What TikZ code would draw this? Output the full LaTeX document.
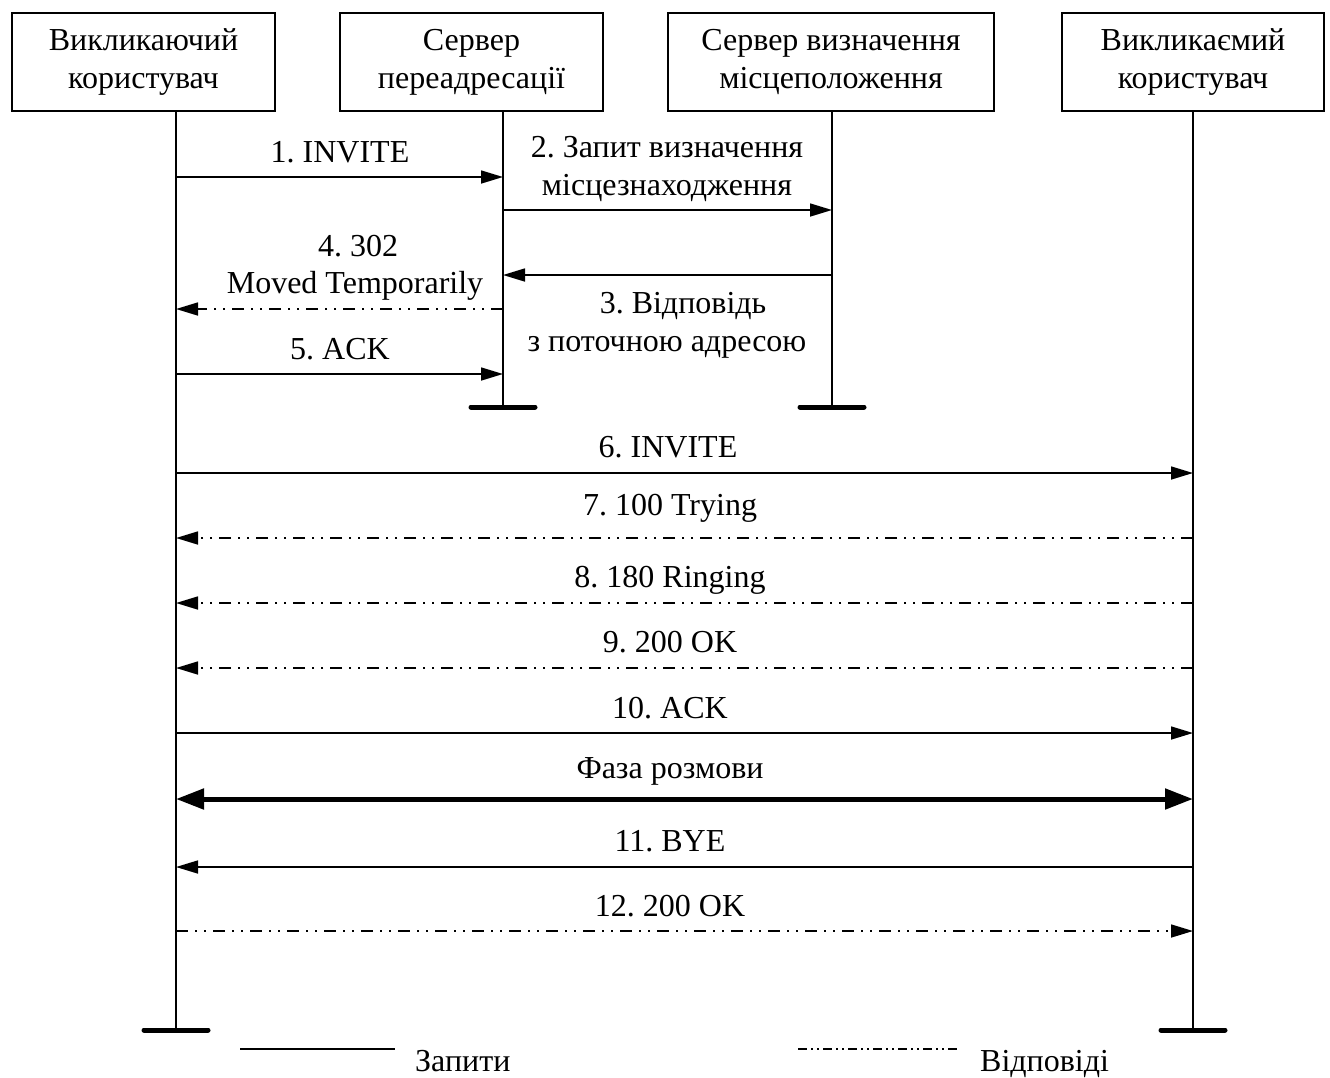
\documentclass[tikz,border=0pt]{standalone}
\usepackage{fontspec}
\setmainfont{Liberation Serif}
\usetikzlibrary{arrows.meta}
\frenchspacing
\begin{document}
\begin{tikzpicture}[x=1pt,y=-1pt,
  font=\fontsize{32}{38}\selectfont,
  actor/.style={draw,line width=2pt,align=center,inner sep=0pt},
  life/.style={line width=2pt},
  endbar/.style={line width=5pt,line cap=round},
  req/.style={line width=1.6pt,-{Triangle[length=22pt,width=13pt]}},
  resp/.style={req,dash pattern=on 12pt off 7pt on 2pt off 7pt on 2pt off 7pt},
  talk/.style={line width=5pt,{Triangle[length=28pt,width=20pt]}-{Triangle[length=28pt,width=20pt]}},
  lbl/.style={anchor=base,inner sep=0pt}]
\useasboundingbox (0,0) rectangle (1330,1077);

% participants
\node[actor,minimum width=263pt,minimum height=98pt] (A) at (143.5,62) {Викликаючий\\користувач};
\node[actor,minimum width=263pt,minimum height=98pt] (B) at (471.5,62) {Сервер\\переадресації};
\node[actor,minimum width=326pt,minimum height=98pt] (C) at (831,62) {Сервер визначення\\місцеположення};
\node[actor,minimum width=262pt,minimum height=98pt] (D) at (1193,62) {Викликаємий\\користувач};

% lifelines
\coordinate (Atop) at (176,111);  \coordinate (Aend) at (176,1030);
\coordinate (Btop) at (503,111);  \coordinate (Bend) at (503,407);
\coordinate (Ctop) at (832,111);  \coordinate (Cend) at (832,407);
\coordinate (Dtop) at (1193,111); \coordinate (Dend) at (1193,1030);
\foreach \p in {A,B,C,D}{
  \draw[life] (\p top) -- (\p end);
  \draw[endbar] ([xshift=-32pt]\p end) -- ([xshift=32pt]\p end);
}

% redirect phase
\draw[req]  (Atop |- 0,177) -- (Btop |- 0,177);
\node[lbl] (m1) at (340,162) {1. INVITE};
\draw[req]  (Btop |- 0,210) -- (Ctop |- 0,210);
\node[lbl] (m2a) at (667,157) {2. Запит визначення};
\node[lbl] (m2b) at (667,195) {місцезнаходження};
\draw[req]  (Ctop |- 0,275) -- (Btop |- 0,275);
\node[lbl] (m3a) at (683,313) {3. Відповідь};
\node[lbl] (m3b) at (667,351) {з поточною адресою};
\draw[resp] (Btop |- 0,309) -- (Atop |- 0,309);
\node[lbl] (m4a) at (358,256) {4. 302};
\node[lbl] (m4b) at (355,293) {Moved Temporarily};
\draw[req]  (Atop |- 0,374) -- (Btop |- 0,374);
\node[lbl] (m5) at (340,359) {5. ACK};

% call with the called user
\draw[req]  (Atop |- 0,473) -- (Dtop |- 0,473);
\node[lbl] (m6) at (668,457) {6. INVITE};
\draw[resp] (Dtop |- 0,538) -- (Atop |- 0,538);
\node[lbl] (m7) at (670,515) {7. 100 Trying};
\draw[resp] (Dtop |- 0,603) -- (Atop |- 0,603);
\node[lbl] (m8) at (670,587) {8. 180 Ringing};
\draw[resp] (Dtop |- 0,668) -- (Atop |- 0,668);
\node[lbl] (m9) at (670,652) {9. 200 OK};
\draw[req]  (Atop |- 0,733) -- (Dtop |- 0,733);
\node[lbl] (m10) at (670,718) {10. ACK};
\draw[talk] (Atop |- 0,799) -- (Dtop |- 0,799);
\node[lbl] (ph) at (670,778) {Фаза розмови};
\draw[req]  (Dtop |- 0,867) -- (Atop |- 0,867);
\node[lbl] (m11) at (670,851) {11. BYE};
\draw[resp] (Atop |- 0,931) -- (Dtop |- 0,931);
\node[lbl] (m12) at (670,916) {12. 200 OK};

% legend
\coordinate (reqA) at (240,1049); \coordinate (reqB) at (395,1049);
\draw[line width=1.6pt] (reqA) -- (reqB);
\node[anchor=base west,inner sep=0pt] (lreq) at (415,1071) {Запити};
\coordinate (respA) at (798,1049); \coordinate (respB) at (957,1049);
\draw[line width=1.6pt,dash pattern=on 9pt off 4pt on 2pt off 4pt on 2pt off 4pt] (respA) -- (respB);
\node[anchor=base west,inner sep=0pt] (lresp) at (980,1071) {Відповіді};
\end{tikzpicture}
\end{document}
